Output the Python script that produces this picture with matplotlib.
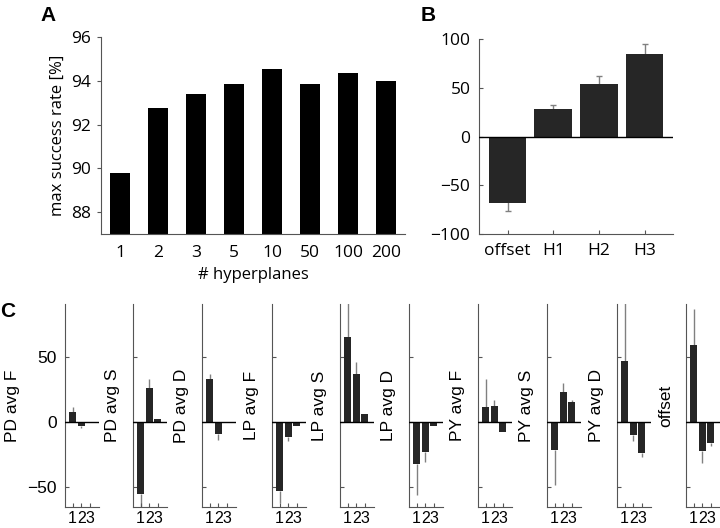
import numpy as np
import matplotlib.pyplot as plt

# panel A
hyper_labels = ['1', '2', '3', '5', '10', '50', '100', '200']
success_rate = [89.8, 92.75, 93.4, 93.85, 94.55, 93.85, 94.35, 94.0]

# panel B
weight_labels = ['offset', 'H1', 'H2', 'H3']
weight_vals = [-68, 28.5, 53.5, 84.5]
weight_err = [8.5, 4, 9, 10.5]

# panel C
feat_names = ['PD avg F', 'PD avg S', 'PD avg D', 'LP avg F', 'LP avg S',
              'LP avg D', 'PY avg F', 'PY avg S', 'PY avg D', 'offset']
feat_vals = [
    [7.5, -3, -0.5],
    [-55.5, 26, 2],
    [32.5, -9, -1],
    [-53, -11.5, -3.5],
    [65, 36.5, 6],
    [-32, -23, -2.8],
    [11.5, 12.5, -7.5],
    [-21.5, 23, 15],
    [46.5, -10, -24],
    [58.5, -22.5, -16],
]
feat_err = [
    [4, 2, 0],
    [15, 7, 0],
    [4, 5, 0],
    [9.5, 3.5, 0],
    [40, 9, 0],
    [24, 8, 0],
    [21, 4.5, 0],
    [27, 7, 2],
    [50, 5, 3],
    [28, 9, 2.5],
]

plt.rcParams['font.family'] = ['Open Sans', 'DejaVu Sans']
spine_col = '#555555'
bar_col = '#262626'
err_col = '#808080'
cfont = ['Liberation Sans']

fig = plt.figure(figsize=(7.2, 5.28), dpi=100)

# ---- A ----
axA = fig.add_axes([0.1403, 0.5563, 0.4222, 0.3742])
xa = np.arange(1, len(success_rate) + 1)
axA.bar(xa, np.array(success_rate) - 80, bottom=80, width=0.55, color='black')
axA.set_xlim(0.5, 8.5)
axA.set_ylim(87, 96)
axA.set_yticks([88, 90, 92, 94, 96])
axA.set_xticks(xa)
axA.set_xticklabels(hyper_labels)
axA.tick_params(axis='x', length=0, pad=8, labelsize=12.5)
axA.tick_params(axis='y', length=3, direction='out', color=spine_col, labelsize=12.5, pad=4)
axA.set_xlabel('# hyperplanes', fontsize=12, labelpad=4)
axA.set_ylabel('max success rate [%]', fontsize=12, labelpad=4)
for s in ['top', 'right']:
    axA.spines[s].set_visible(False)
for s in ['left', 'bottom']:
    axA.spines[s].set_color(spine_col)

# ---- B ----
axB = fig.add_axes([0.6649, 0.5563, 0.2703, 0.3699])
xb = np.arange(1, len(weight_vals) + 1)
axB.errorbar(xb, weight_vals, yerr=weight_err, fmt='none', ecolor=err_col,
             elinewidth=1, capsize=2, zorder=1)
axB.bar(xb, weight_vals, width=0.82, color=bar_col, zorder=2)
axB.axhline(0, color='black', lw=1, zorder=3)
axB.set_xlim(0.37, 4.63)
axB.set_ylim(-100, 100)
axB.set_yticks([-100, -50, 0, 50, 100])
axB.set_xticks(xb)
axB.set_xticklabels(weight_labels)
axB.tick_params(direction='in', length=3, color=spine_col, labelsize=12.5, pad=6)
for s in ['top', 'right']:
    axB.spines[s].set_visible(False)
for s in ['left', 'bottom']:
    axB.spines[s].set_color(spine_col)

# ---- C ----
c_lefts = [65, 133, 202, 272, 340, 409, 478, 547, 617, 686]
for i, name in enumerate(feat_names):
    ax = fig.add_axes([c_lefts[i] / 720, 0.0403, 34 / 720, 0.3833])
    xc = np.arange(1, 4)
    vals = np.array(feat_vals[i])
    errs = np.array(feat_err[i])
    # error only drawn outward from the bar
    lower = np.where(vals < 0, errs, 0)
    upper = np.where(vals >= 0, errs, 0)
    ax.errorbar(xc, vals, yerr=[lower, upper], fmt='none', ecolor=err_col,
                elinewidth=1, capsize=0, zorder=1)
    ax.bar(xc, vals, width=0.85, color=bar_col, zorder=2)
    ax.axhline(0, color='black', lw=1, zorder=3)
    ax.set_xlim(0.1, 4.1)
    ax.set_ylim(-65, 90)
    ax.set_yticks([-50, 0, 50])
    ax.set_xticks(xc)
    ax.set_xticklabels(['1', '2', '3'], family=cfont, fontsize=11.5)
    ax.tick_params(direction='in', length=3, color=spine_col)
    ax.tick_params(axis='x', pad=3)
    if i == 0:
        ax.set_yticklabels(['\u221250', '0', '50'], family=cfont, fontsize=12.5)
        ax.tick_params(axis='y', pad=6)
        ax.yaxis.set_label_coords(-1.32, 0.5)
    else:
        ax.set_yticklabels([])
        ax.yaxis.set_label_coords(-0.38, 0.5)
    ax.set_ylabel(name, family=cfont, fontsize=12.5)
    for s in ['top', 'right']:
        ax.spines[s].set_visible(False)
    for s in ['left', 'bottom']:
        ax.spines[s].set_color(spine_col)

# panel letters
for letter, (px, py) in zip('ABC', [(40, 6), (421, 6), (0, 302)]):
    fig.text(px / 720, 1 - py / 528, letter, fontsize=15, fontweight='bold',
             family=cfont, ha='left', va='top')

fig.savefig('out.png', dpi=100)
